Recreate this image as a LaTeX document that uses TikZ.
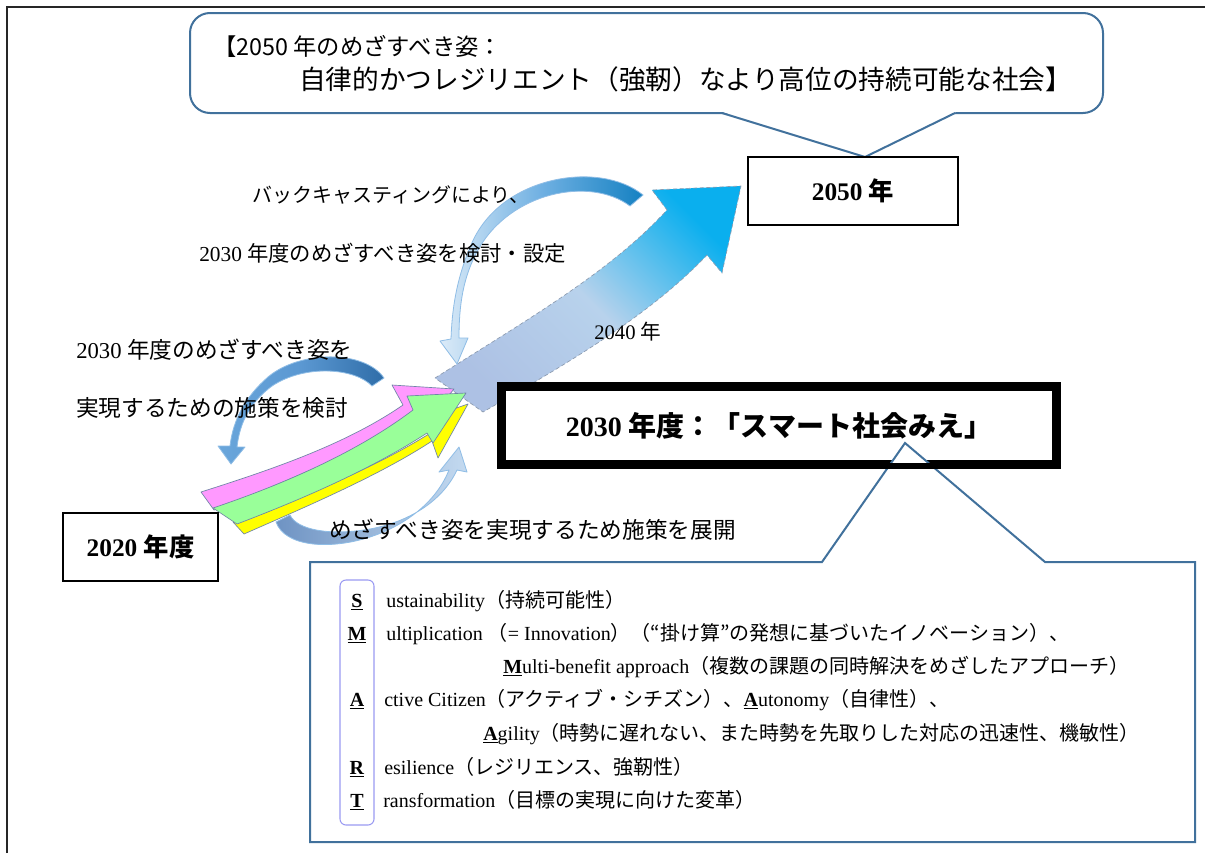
\documentclass[tikz,border=0pt]{standalone}
\usepackage{fontspec}
\setmainfont{Liberation Serif}
\newfontfamily\jp{Noto Sans CJK JP}
\newcommand\J[1]{{\jp #1}}
\newcommand\UL[1]{\underline{\textbf{#1}}}
\definecolor{callout}{HTML}{41719C}
\definecolor{smartc}{HTML}{9A9AF2}
\definecolor{pinkA}{HTML}{FF99FF}
\definecolor{greenA}{HTML}{99FF99}
\definecolor{yellowA}{HTML}{FFFF00}
\definecolor{edgeA}{HTML}{6F86A6}
\definecolor{bigTail}{HTML}{ADC1E4}
\definecolor{bigMid}{HTML}{B8D2EC}
\definecolor{bigHead}{HTML}{0AAFEE}
\definecolor{bigEdge}{HTML}{8C9BB0}
\definecolor{swLight}{HTML}{DCEBF8}
\definecolor{swMid}{HTML}{6FB0E2}
\definecolor{swDark}{HTML}{1581C2}
\definecolor{swLine}{HTML}{8FBDE6}
\definecolor{sw2Light}{HTML}{6AA6DB}
\definecolor{sw2Mid}{HTML}{5B98D2}
\definecolor{sw2Dark}{HTML}{2F6DA8}
\definecolor{sw3Light}{HTML}{C4DAF0}
\definecolor{sw3Dark}{HTML}{6E93C3}
\begin{document}
\begin{tikzpicture}[x=0.75pt,y=-0.75pt,
  frame/.style={line width=1.5pt, black!85},
  calloutline/.style={draw=callout, line width=1.5pt},
  lab/.style={inner sep=0pt, anchor=west},
  rowtext/.style={inner sep=0pt, anchor=base west, font=\fontsize{15}{18}\selectfont},
  letter/.style={inner sep=0pt, anchor=base, font=\fontsize{15}{18}\selectfont},
  colarrow/.style={draw=edgeA, line width=0.5pt, line join=round},
  swoosh/.style={draw=swLine, line width=0.6pt, line join=round},
  yearbox/.style={draw=black, fill=white, inner sep=0pt, font=\bfseries\fontsize{19}{22}\selectfont}
]
\useasboundingbox (0,0) rectangle (1205,853);
\fill[white] (0,0) rectangle (1205,853);
% outer frame (left and top)
\draw[frame] (7,853) -- (7,7) -- (1205,7);

% ---------- top callout ----------
\coordinate (tip1) at (865,157);
\draw[calloutline, fill=white, rounded corners=15pt] (190,13) rectangle (1103,113);
\fill[white] (719,111) -- (958,111) -- (tip1) -- cycle;
\draw[calloutline, line join=miter] (722,113) -- (tip1) -- (955,113);
\node[lab, font=\fontsize{17.5}{20}\selectfont\jp] (goal1) at (213,46) {【2050 年のめざすべき姿：};
\node[lab, font=\fontsize{20}{22}\selectfont\jp] (goal2) at (299,79) {自律的かつレジリエント（強靭）なより高位の持続可能な社会】};

% ---------- bottom swoosh (deploy) ----------
\path[swoosh, left color=sw3Dark, right color=sw3Light]
  (276,522) .. controls (285,547) and (330,550) .. (370,537)
  .. controls (410,524) and (438,498) .. (449,470)
  -- (439,472) -- (459,447) -- (467,472) -- (457,470)
  .. controls (442,502) and (408,522) .. (370,529)
  .. controls (330,536) and (297,530) .. (290,515) -- cycle;

% ---------- big blue arrow ----------
\path[draw=bigEdge, densely dashed, line width=0.5pt,
      top color=bigHead, bottom color=bigTail, middle color=bigMid, shading angle=-45]
  (435,378) .. controls (530,318) and (610,272) .. (667,210)
  -- (652,190) -- (741,186) -- (722,273) -- (707,255)
  .. controls (650,315) and (570,362) .. (483,412) -- cycle;

% ---------- upper swoosh (backcasting) ----------
\path[swoosh, left color=swLight, right color=swDark, middle color=swMid]
  (643,195) .. controls (600,160) and (500,175) .. (471,245)
  .. controls (456,280) and (452,310) .. (451,339)
  -- (440,341) -- (457,364) -- (468,338) -- (459,338)
  .. controls (459,305) and (463,277) .. (478,250)
  .. controls (510,192) and (590,176) .. (630,206) -- cycle;

% ---------- middle-left swoosh (consider measures) ----------
\path[swoosh, left color=sw2Light, right color=sw2Dark, middle color=sw2Mid]
  (384,378) .. controls (365,350) and (300,350) .. (268,377)
  .. controls (245,397) and (233,420) .. (230,446)
  -- (218,446) -- (231,464) -- (245,447) -- (237,447)
  .. controls (240,420) and (252,401) .. (272,386)
  .. controls (305,364) and (355,368) .. (372,386) -- cycle;

% ---------- coloured arrows ----------
\path[colarrow, fill=yellowA]
  (233,522) .. controls (310,495) and (380,465) .. (432,432)
  -- (445,412) -- (468,404) -- (438,458) -- (432,441)
  .. controls (380,475) and (310,505) .. (244,534) -- cycle;
\path[colarrow, fill=pinkA]
  (201,492) .. controls (270,470) and (345,445) .. (403,405)
  -- (392,385) -- (454,389) -- (422,428) -- (415,418)
  .. controls (360,450) and (290,480) .. (214,510) -- cycle;
\path[colarrow, fill=greenA]
  (213,508) .. controls (290,482) and (360,450) .. (413,410)
  -- (407,396) -- (466,393) -- (433,443) -- (427,433)
  .. controls (370,470) and (300,500) .. (237,524) -- cycle;

% ---------- boxes ----------
\node[yearbox, line width=1.8pt, minimum width=157.5pt, minimum height=51pt] (b2050) at (853,191) {2050 \J{年}};
\node[yearbox, line width=1.5pt, minimum width=116.25pt, minimum height=51pt] (b2020) at (140.5,547) {2020 \J{年度}};
\node[draw=black, fill=white, line width=4.5pt, inner sep=0pt, minimum width=414pt, minimum height=56.25pt,
      font=\bfseries\fontsize{21}{24}\selectfont] (b2030) at (779,425.5) {2030 \J{年度：「スマート社会みえ」}};

% ---------- bottom callout ----------
\coordinate (tip2) at (905,443);
\draw[calloutline, fill=white, line join=miter] (310,562) -- (822,562) -- (tip2) -- (1045,562) -- (1195,562) -- (1195,842) -- (310,842) -- cycle;
\draw[line width=4.5pt] (b2030.north west) rectangle (b2030.south east);

% SMART column
\node[draw=smartc, rounded corners=4.5pt, line width=0.8pt, minimum width=25.5pt, minimum height=183.75pt, inner sep=0pt] (smart) at (357,702.5) {};
\node[letter] (lS) at (357,607) {\UL{S}};
\node[letter] (lM) at (357,640) {\UL{M}};
\node[letter] (lA) at (357,706) {\UL{A}};
\node[letter] (lR) at (357,774) {\UL{R}};
\node[letter] (lT) at (357,807) {\UL{T}};
\node[rowtext] (r1) at (386,607) {ustainability\J{（持続可能性）}};
\node[rowtext] (r2) at (386,640) {ultiplication \J{（}= Innovation\J{）（“掛け算”の発想に基づいたイノベーション）、}};
\node[rowtext] (r3) at (503,673) {\UL{M}ulti-benefit approach\J{（複数の課題の同時解決をめざしたアプローチ）}};
\node[rowtext] (r4) at (384,706) {ctive Citizen\J{（アクティブ・シチズン）、}\UL{A}utonomy\J{（自律性）、}};
\node[rowtext] (r5) at (483,740) {\UL{A}gility\J{（時勢に遅れない、また時勢を先取りした対応の迅速性、機敏性）}};
\node[rowtext] (r6) at (384,774) {esilience\J{（レジリエンス、強靭性）}};
\node[rowtext] (r7) at (383,807) {ransformation\J{（目標の実現に向けた変革）}};

% ---------- labels ----------
\node[lab, font=\fontsize{15}{17}\selectfont\jp] (backcast) at (252,195) {バックキャスティングにより、};
\node[lab, font=\fontsize{16}{18}\selectfont] (set2030) at (199,253) {2030 \J{年度のめざすべき姿を検討・設定}};
\node[lab, font=\fontsize{17}{19}\selectfont] (meas1) at (76,350) {2030 \J{年度のめざすべき姿を}};
\node[lab, font=\fontsize{17}{19}\selectfont\jp] (meas2) at (76,408) {実現するための施策を検討};
\node[lab, font=\fontsize{15.5}{17}\selectfont] (y2040) at (594,332) {2040 \J{年}};
\node[lab, font=\fontsize{17}{19}\selectfont\jp] (deploy) at (329,530) {めざすべき姿を実現するため施策を展開};
\end{tikzpicture}
\end{document}
